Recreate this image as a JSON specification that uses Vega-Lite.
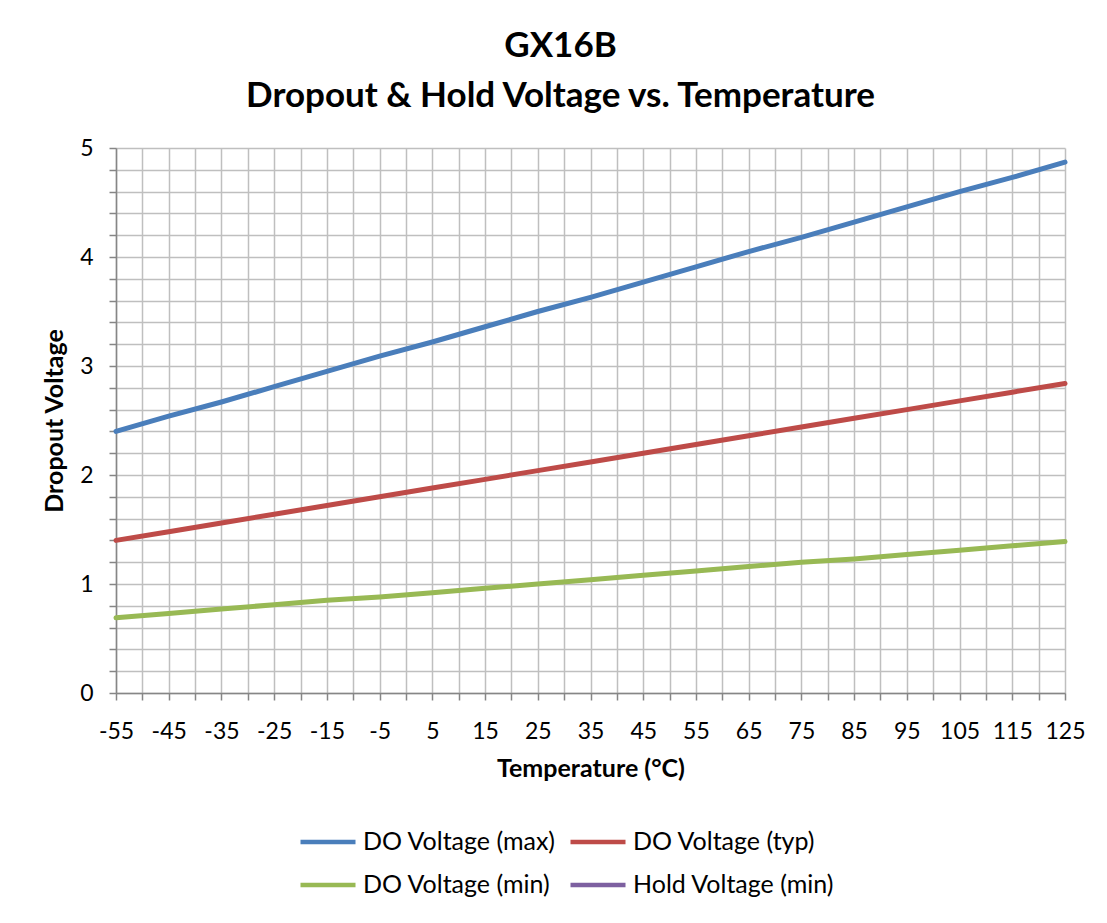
{
  "$schema": "https://vega.github.io/schema/vega-lite/v6.json",
  "width": 949,
  "height": 545,
  "autosize": {"type": "none"},
  "padding": {"left": 116, "top": 148, "right": 42, "bottom": 230},
  "background": "white",
  "title": {
    "text": ["GX16B", "Dropout & Hold Voltage vs. Temperature"],
    "font": "Lato",
    "fontSize": 35,
    "fontWeight": "bold",
    "color": "#000000",
    "lineHeight": 50,
    "offset": 23,
    "anchor": "middle",
    "dx": -30
  },
  "config": {
    "view": {"stroke": null},
    "font": "Lato"
  },
  "data": {
    "values": [
      {"t": -55, "s": "DO Voltage (max)", "v": 2.40},
      {"t": -45, "s": "DO Voltage (max)", "v": 2.54},
      {"t": -35, "s": "DO Voltage (max)", "v": 2.67},
      {"t": -25, "s": "DO Voltage (max)", "v": 2.81},
      {"t": -15, "s": "DO Voltage (max)", "v": 2.95},
      {"t": -5, "s": "DO Voltage (max)", "v": 3.09},
      {"t": 5, "s": "DO Voltage (max)", "v": 3.22},
      {"t": 15, "s": "DO Voltage (max)", "v": 3.36},
      {"t": 25, "s": "DO Voltage (max)", "v": 3.50},
      {"t": 35, "s": "DO Voltage (max)", "v": 3.63},
      {"t": 45, "s": "DO Voltage (max)", "v": 3.77},
      {"t": 55, "s": "DO Voltage (max)", "v": 3.91},
      {"t": 65, "s": "DO Voltage (max)", "v": 4.05},
      {"t": 75, "s": "DO Voltage (max)", "v": 4.18},
      {"t": 85, "s": "DO Voltage (max)", "v": 4.32},
      {"t": 95, "s": "DO Voltage (max)", "v": 4.46},
      {"t": 105, "s": "DO Voltage (max)", "v": 4.60},
      {"t": 115, "s": "DO Voltage (max)", "v": 4.73},
      {"t": 125, "s": "DO Voltage (max)", "v": 4.87},
      {"t": -55, "s": "DO Voltage (typ)", "v": 1.40},
      {"t": -45, "s": "DO Voltage (typ)", "v": 1.48},
      {"t": -35, "s": "DO Voltage (typ)", "v": 1.56},
      {"t": -25, "s": "DO Voltage (typ)", "v": 1.64},
      {"t": -15, "s": "DO Voltage (typ)", "v": 1.72},
      {"t": -5, "s": "DO Voltage (typ)", "v": 1.80},
      {"t": 5, "s": "DO Voltage (typ)", "v": 1.88},
      {"t": 15, "s": "DO Voltage (typ)", "v": 1.96},
      {"t": 25, "s": "DO Voltage (typ)", "v": 2.04},
      {"t": 35, "s": "DO Voltage (typ)", "v": 2.12},
      {"t": 45, "s": "DO Voltage (typ)", "v": 2.20},
      {"t": 55, "s": "DO Voltage (typ)", "v": 2.28},
      {"t": 65, "s": "DO Voltage (typ)", "v": 2.36},
      {"t": 75, "s": "DO Voltage (typ)", "v": 2.44},
      {"t": 85, "s": "DO Voltage (typ)", "v": 2.52},
      {"t": 95, "s": "DO Voltage (typ)", "v": 2.60},
      {"t": 105, "s": "DO Voltage (typ)", "v": 2.68},
      {"t": 115, "s": "DO Voltage (typ)", "v": 2.76},
      {"t": 125, "s": "DO Voltage (typ)", "v": 2.84},
      {"t": -55, "s": "DO Voltage (min)", "v": 0.69},
      {"t": -45, "s": "DO Voltage (min)", "v": 0.73},
      {"t": -35, "s": "DO Voltage (min)", "v": 0.77},
      {"t": -25, "s": "DO Voltage (min)", "v": 0.81},
      {"t": -15, "s": "DO Voltage (min)", "v": 0.85},
      {"t": -5, "s": "DO Voltage (min)", "v": 0.88},
      {"t": 5, "s": "DO Voltage (min)", "v": 0.92},
      {"t": 15, "s": "DO Voltage (min)", "v": 0.96},
      {"t": 25, "s": "DO Voltage (min)", "v": 1.00},
      {"t": 35, "s": "DO Voltage (min)", "v": 1.04},
      {"t": 45, "s": "DO Voltage (min)", "v": 1.08},
      {"t": 55, "s": "DO Voltage (min)", "v": 1.12},
      {"t": 65, "s": "DO Voltage (min)", "v": 1.16},
      {"t": 75, "s": "DO Voltage (min)", "v": 1.20},
      {"t": 85, "s": "DO Voltage (min)", "v": 1.23},
      {"t": 95, "s": "DO Voltage (min)", "v": 1.27},
      {"t": 105, "s": "DO Voltage (min)", "v": 1.31},
      {"t": 115, "s": "DO Voltage (min)", "v": 1.35},
      {"t": 125, "s": "DO Voltage (min)", "v": 1.39}
    ]
  },
  "mark": {"type": "line", "strokeWidth": 5, "strokeCap": "round", "strokeJoin": "round"},
  "encoding": {
    "x": {
      "field": "t",
      "type": "quantitative",
      "scale": {"domain": [-55, 125], "nice": false, "zero": false},
      "axis": {
        "title": "Temperature (°C)",
        "values": [-55,-50,-45,-40,-35,-30,-25,-20,-15,-10,-5,0,5,10,15,20,25,30,35,40,45,50,55,60,65,70,75,80,85,90,95,100,105,110,115,120,125],
        "labelExpr": "(datum.value + 55) % 10 == 0 ? toString(datum.value) : ''",
        "labelFont": "Lato",
        "labelFontSize": 23,
        "labelColor": "#000000",
        "labelPadding": 20,
        "labelFlush": false,
        "labelOverlap": false,
        "tickSize": 7,
        "tickColor": "#868686",
        "tickWidth": 1.5,
        "domainColor": "#868686",
        "domainWidth": 1.5,
        "grid": true,
        "gridColor": "#BFBFBF",
        "gridWidth": 1.5,
        "titleFont": "Lato",
        "titleFontSize": 25,
        "titleFontWeight": "bold",
        "titleColor": "#000000",
        "titlePadding": 13
      }
    },
    "y": {
      "field": "v",
      "type": "quantitative",
      "scale": {"domain": [0, 5], "nice": false},
      "axis": {
        "title": "Dropout Voltage",
        "values": [0,0.2,0.4,0.6,0.8,1,1.2,1.4,1.6,1.8,2,2.2,2.4,2.6,2.8,3,3.2,3.4,3.6,3.8,4,4.2,4.4,4.6,4.8,5],
        "labelExpr": "abs(datum.value - round(datum.value)) < 0.001 ? format(datum.value, 'd') : ''",
        "labelFont": "Lato",
        "labelFontSize": 23,
        "labelColor": "#000000",
        "labelPadding": 16,
        "labelFlush": false,
        "labelOverlap": false,
        "tickSize": 7,
        "tickColor": "#868686",
        "tickWidth": 1.5,
        "domainColor": "#868686",
        "domainWidth": 1.5,
        "grid": true,
        "gridColor": "#BFBFBF",
        "gridWidth": 1.5,
        "titleFont": "Lato",
        "titleFontSize": 25,
        "titleFontWeight": "bold",
        "titleColor": "#000000",
        "titlePadding": 12
      }
    },
    "color": {
      "field": "s",
      "type": "nominal",
      "scale": {
        "domain": ["DO Voltage (max)", "DO Voltage (typ)", "DO Voltage (min)", "Hold Voltage (min)"],
        "range": ["#4A7EBB", "#BE4B48", "#98B954", "#7D60A0"]
      },
      "legend": {
        "title": null,
        "orient": "none",
        "legendX": 182,
        "legendY": 664,
        "padding": 0,
        "values": ["DO Voltage (max)", "DO Voltage (min)", "DO Voltage (typ)", "Hold Voltage (min)"],
        "columns": 2,
        "columnPadding": 5,
        "rowPadding": -7,
        "symbolType": "stroke",
        "symbolSize": 3025,
        "symbolStrokeWidth": 4.5,
        "labelFont": "Lato",
        "labelFontSize": 25,
        "labelColor": "#000000",
        "labelOffset": 5,
        "labelLimit": 400
      }
    }
  }
}
